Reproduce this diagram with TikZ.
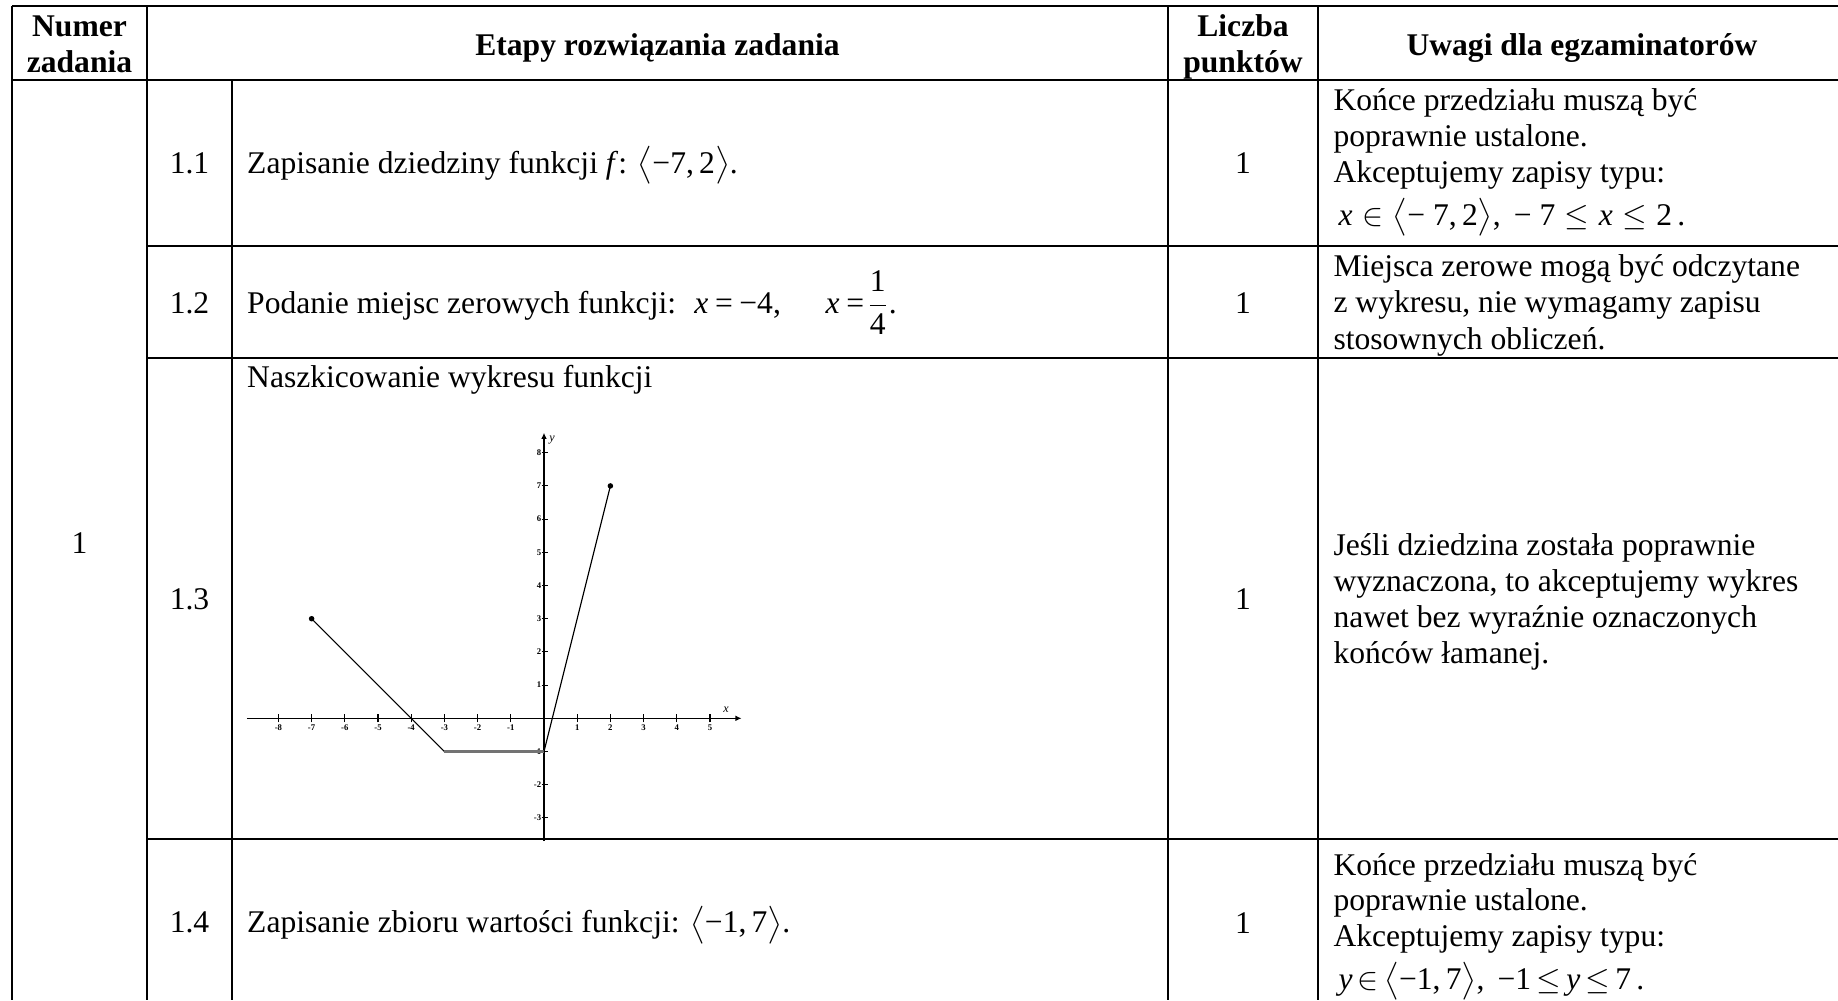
\documentclass[tikz,border=0pt]{standalone}
\usepackage{amsmath}
\usepackage{fontspec}
\setmainfont{Liberation Serif}
\usetikzlibrary{arrows.meta}
\newcommand{\ivl}[2]{$\bigl\langle$#1,\,#2$\bigr\rangle$}
\newcommand{\ivls}[2]{\smash{$\bigl\langle$}#1,\,#2\smash{$\bigr\rangle$}}
\newcommand{\rsp}{\hspace{3.6pt}}
\begin{document}
\begin{tikzpicture}[x=0.38pt,y=-0.38pt,
  tline/.style={line width=1.1pt, black},
  txt/.style={inner sep=0pt, font=\fontsize{12pt}{13.8pt}\selectfont},
  head/.style={inner sep=0pt, font=\fontsize{12pt}{13.8pt}\selectfont\bfseries},
  ax/.style={line width=0.4pt, black},
  curve/.style={line width=0.45pt, black},
  lab/.style={inner sep=0pt, font=\fontsize{3.3pt}{3.5pt}\selectfont\bfseries},
  axlab/.style={inner sep=0pt, font=\fontsize{4.6pt}{4.6pt}\selectfont\itshape}]
\fill[white] (0,0) rectangle (1838,1000);
\useasboundingbox (0,0) rectangle (1838,1000);
\clip (0,0) rectangle (1838,1000);
% table rules
\draw[tline] (12,6) -- (1838,6);
\draw[tline] (12,80) -- (1838,80);
\draw[tline] (147,246) -- (1838,246);
\draw[tline] (147,358) -- (1838,358);
\draw[tline] (147,839) -- (1838,839);
\draw[tline] (12,6) -- (12,1000);
\draw[tline] (147,6) -- (147,1000);
\draw[tline] (232,80) -- (232,1000);
\draw[tline] (1168,6) -- (1168,1000);
\draw[tline] (1318,6) -- (1318,1000);
% header
\node[head, anchor=base] (h1a) at (79.5,36) {Numer};
\node[head, anchor=base] (h1b) at (79.5,72.7) {zadania};
\node[head, anchor=base] (h2) at (657.5,55) {Etapy rozwiązania zadania};
\node[head, anchor=base] (h3a) at (1243,36) {Liczba};
\node[head, anchor=base] (h3b) at (1243,72.7) {punktów};
\node[head, anchor=base] (h4) at (1582,55) {Uwagi dla egzaminatorów};
% task number
\node[txt, anchor=base] (n1) at (79.5,553.3) {1};
% row 1.1
\node[txt, anchor=base] (r11) at (189.5,173.3) {1.1};
\node[txt, anchor=base west] (e11) at (246.7,173.3) {Zapisanie dziedziny funkcji \textit{f}: \ivl{−7}{2}.};
\node[txt, anchor=base] (p11) at (1243,173.3) {1};
\node[txt, anchor=base west] (u11a) at (1333,110.7) {Końce przedziału muszą być};
\node[txt, anchor=base west] (u11b) at (1333,146.7) {poprawnie ustalone.};
\node[txt, anchor=base west] (u11c) at (1333,182.7) {Akceptujemy zapisy typu:};
\node[txt, anchor=base west] (u11d) at (1338,225) {\textit{x}\rsp$\in$\rsp\ivls{−\hspace{3pt}7}{2}, \,−\hspace{3pt}7\rsp$\le$\rsp\textit{x}\rsp$\le$\rsp2\,.};
% row 1.2
\node[txt, anchor=base] (r12) at (189.5,313.3) {1.2};
\node[txt, anchor=base west] (e12) at (246.7,313.3) {Podanie miejsc zerowych funkcji: \ \textit{x}\hspace{2.5pt}=\hspace{2.5pt}−4,\hspace{17pt}\textit{x}\hspace{2.5pt}=\hspace{1pt}$\dfrac{\text{1}}{\text{4}}$.};
\node[txt, anchor=base] (p12) at (1243,313.3) {1};
\node[txt, anchor=base west] (u12a) at (1333,276) {Miejsca zerowe mogą być odczytane};
\node[txt, anchor=base west] (u12b) at (1333,312.7) {z wykresu, nie wymagamy zapisu};
\node[txt, anchor=base west] (u12c) at (1333,349.3) {stosownych obliczeń.};
% row 1.3
\node[txt, anchor=base] (r13) at (189.5,609.3) {1.3};
\node[txt, anchor=base west] (e13) at (246.7,387.7) {Naszkicowanie wykresu funkcji};
\node[txt, anchor=base] (p13) at (1243,609.3) {1};
\node[txt, anchor=base west] (u13a) at (1333,555) {Jeśli dziedzina została poprawnie};
\node[txt, anchor=base west] (u13b) at (1333,591) {wyznaczona, to akceptujemy wykres};
\node[txt, anchor=base west] (u13c) at (1333,627) {nawet bez wyraźnie oznaczonych};
\node[txt, anchor=base west] (u13d) at (1333,663) {końców łamanej.};
% row 1.4
\node[txt, anchor=base] (r14) at (189.5,932.7) {1.4};
\node[txt, anchor=base west] (e14) at (246.7,932.7) {Zapisanie zbioru wartości funkcji: \ivl{−1}{7}.};
\node[txt, anchor=base] (p14) at (1243,933) {1};
\node[txt, anchor=base west] (u14a) at (1333,875) {Końce przedziału muszą być};
\node[txt, anchor=base west] (u14b) at (1333,910.7) {poprawnie ustalone.};
\node[txt, anchor=base west] (u14c) at (1333,946.7) {Akceptujemy zapisy typu:};
\node[txt, anchor=base west] (u14d) at (1338,989) {\textit{y}\,$\in$\,\ivls{−1}{7}, \,−1\,$\le$\,\textit{y}\,$\le$\,7\,.};
% graph
\begin{scope}[shift={(544,718.3)}, x=12.616pt, y=12.616pt]
  \coordinate (xs) at (-8.95,0);
  \coordinate (xe) at (5.95,0);
  \coordinate (ys) at (0,-3.7);
  \coordinate (ye) at (0,8.6);
  \draw[ax, -{Latex[length=2.3pt,width=2.1pt]}] (xs) -- (xe);
  \draw[ax, -{Latex[length=2.3pt,width=2.1pt]}] (ys) -- (ye);
  \foreach \i in {-8,-7,-6,-5,-4,-3,-2,-1,1,2,3,4,5} {
    \draw[ax] (\i,-0.12) -- (\i,0.12);
    \node[lab] (xl\i) at (\i,-0.27) {\i};
  }
  \foreach \j in {-3,-2,-1,1,2,3,4,5,6,7,8} {
    \draw[ax] (-0.07,\j) -- (0.13,\j);
    \node[lab, anchor=east] (yl\j) at (-0.07,\j) {\j};
  }
  \node[axlab] (xlab) at (5.48,0.27) {x};
  \node[axlab] (ylab) at (0.24,8.38) {y};
  \coordinate (A) at (-7,3);
  \coordinate (B) at (-3,-1);
  \coordinate (C) at (0,-1);
  \coordinate (D) at (2,7);
  \draw[curve] (A) -- (B);
  \draw[curve, black!55, line width=0.8pt] (B) -- (C);
  \draw[curve] (C) -- (D);
  \fill (A) circle[radius=1.05pt];
  \fill (D) circle[radius=1.05pt];
\end{scope}
\end{tikzpicture}
\end{document}
